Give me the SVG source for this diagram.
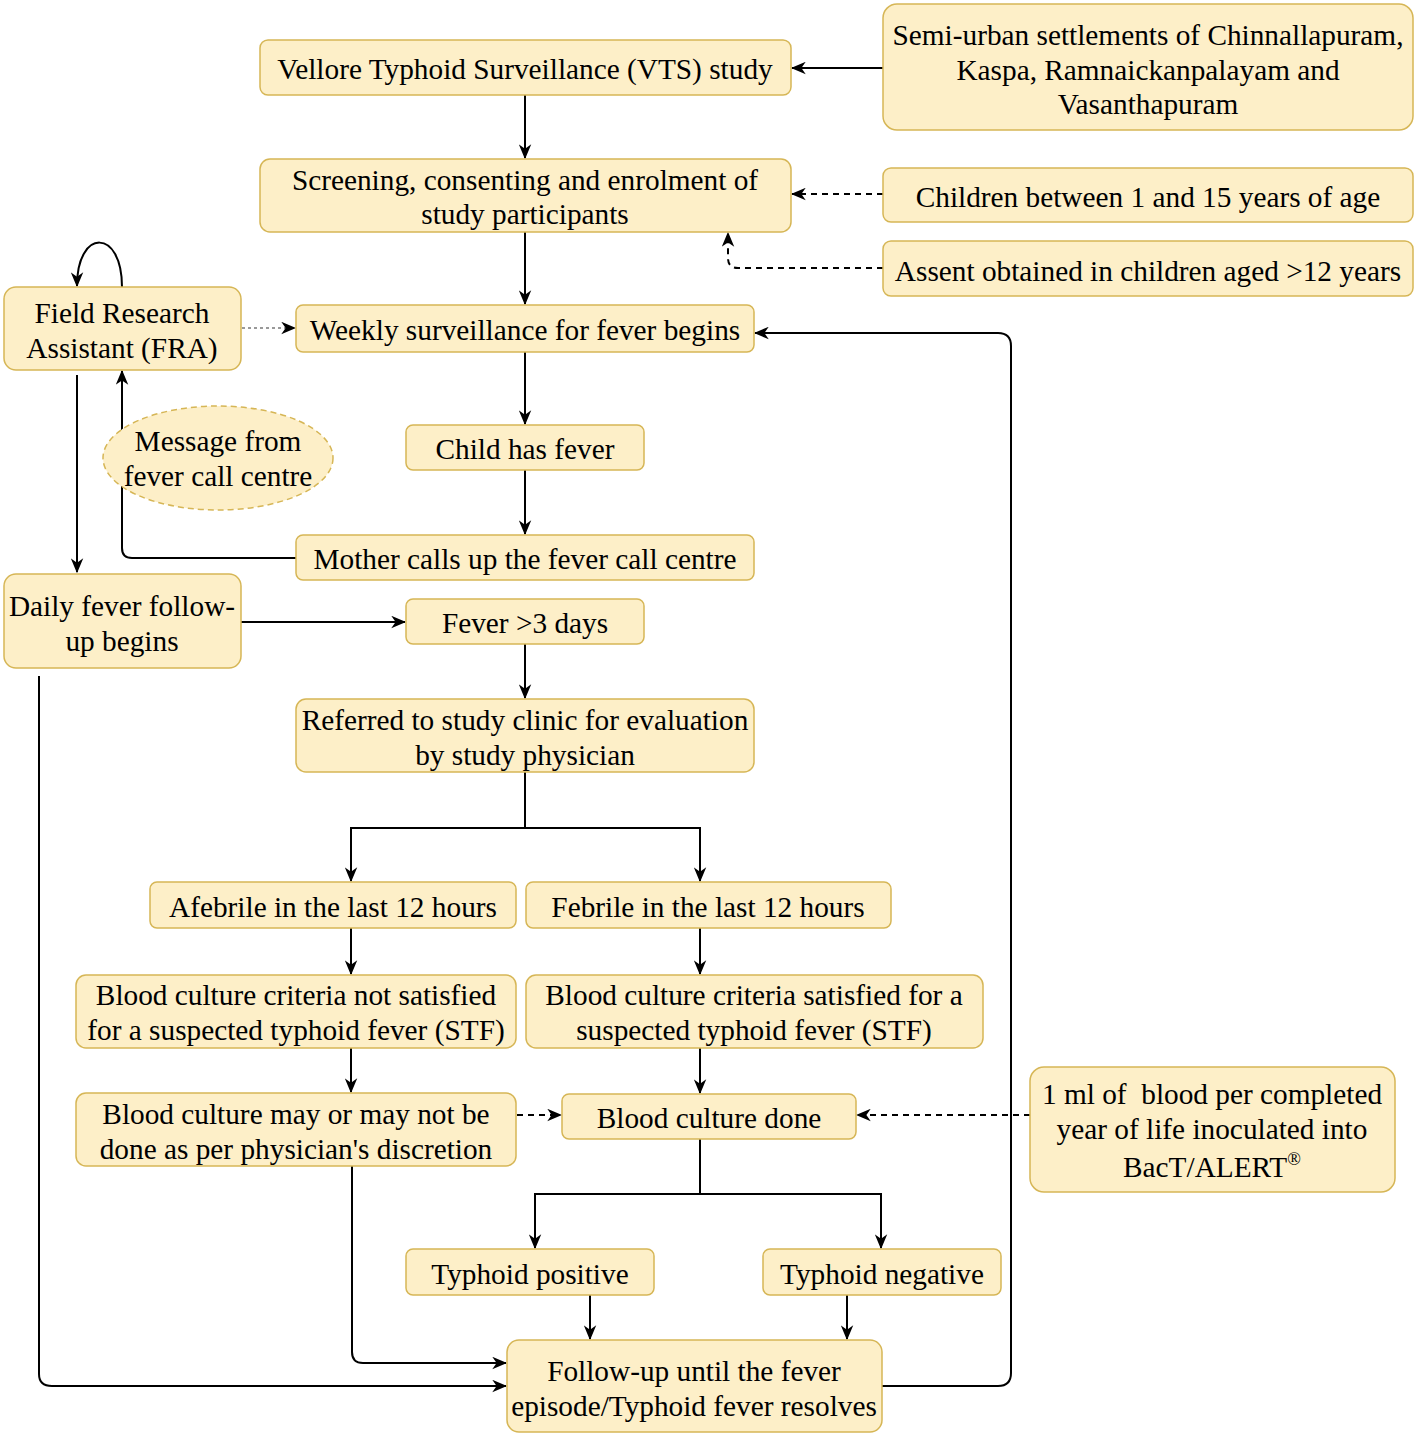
<svg xmlns="http://www.w3.org/2000/svg" width="1418" height="1436" viewBox="0 0 1418 1436">
<style>
.n{fill:#FDEFC8;stroke:#D6B656;stroke-width:1.5}
.e{fill:#FDEFC8;stroke:#D6B656;stroke-width:1.5;stroke-dasharray:6 4}
text{font-family:"Liberation Serif","Times New Roman",serif;font-size:29.3px;fill:#000;text-anchor:middle}
.c{fill:none;stroke:#000;stroke-width:2}
.d{fill:none;stroke:#000;stroke-width:2;stroke-dasharray:6 5}
.g{fill:none;stroke:#999;stroke-width:2;stroke-dasharray:3 3}
</style>
<defs>
<marker id="a" viewBox="0 0 12 10" refX="11" refY="5" markerWidth="15" markerHeight="13" markerUnits="userSpaceOnUse" orient="auto"><path d="M0,0 L12,5 L0,10 L3.5,5 z" fill="#000"/></marker>
</defs>
<rect width="1418" height="1436" fill="#fff"/>
<g id="connectors">
<path class="c" d="M883,68 H792" marker-end="url(#a)"/>
<path class="c" d="M525,95 V158" marker-end="url(#a)"/>
<path class="d" d="M883,194 H792" marker-end="url(#a)"/>
<path class="d" d="M883,268 H738 Q728,268 728,258 V233" marker-end="url(#a)"/>
<path class="c" d="M525,232 V304" marker-end="url(#a)"/>
<path class="g" d="M242,328 H295" marker-end="url(#a)"/>
<path class="c" d="M122,287 C122,228 77,228 77,286" marker-end="url(#a)"/>
<path class="c" d="M77,375 V572" marker-end="url(#a)"/>
<path class="c" d="M296,558 H132 Q122,558 122,548 V371" marker-end="url(#a)"/>
<path class="c" d="M525,352 V424" marker-end="url(#a)"/>
<path class="c" d="M525,470 V534" marker-end="url(#a)"/>
<path class="c" d="M241,622 H405" marker-end="url(#a)"/>
<path class="c" d="M525,644 V698" marker-end="url(#a)"/>
<path class="c" d="M525,772 V828 H351 V881" marker-end="url(#a)"/>
<path class="c" d="M525,828 H700 V881" marker-end="url(#a)"/>
<path class="c" d="M351,928 V974" marker-end="url(#a)"/>
<path class="c" d="M700,928 V974" marker-end="url(#a)"/>
<path class="c" d="M351,1048 V1092" marker-end="url(#a)"/>
<path class="c" d="M700,1048 V1093" marker-end="url(#a)"/>
<path class="d" d="M517,1115 H561" marker-end="url(#a)"/>
<path class="d" d="M1030,1115 H857" marker-end="url(#a)"/>
<path class="c" d="M700,1139 V1194 H535 V1248" marker-end="url(#a)"/>
<path class="c" d="M700,1194 H881 V1248" marker-end="url(#a)"/>
<path class="c" d="M590,1295 V1339" marker-end="url(#a)"/>
<path class="c" d="M847,1295 V1339" marker-end="url(#a)"/>
<path class="c" d="M352,1166 V1352 Q352,1363 363,1363 H506" marker-end="url(#a)"/>
<path class="c" d="M39,676 V1374 Q39,1386 52,1386 H506" marker-end="url(#a)"/>
<path class="c" d="M882,1386 H998 Q1011,1386 1011,1373 V346 Q1011,333 998,333 H755" marker-end="url(#a)"/>
</g>
<g id="n1"><rect class="n" x="260" y="40" width="531" height="55" rx="8"/><text x="525" y="79">Vellore Typhoid Surveillance (VTS) study</text></g>
<g id="n2"><rect class="n" x="883" y="4" width="530" height="126" rx="14"/><text x="1148" y="45">Semi-urban settlements of Chinnallapuram,</text><text x="1148" y="80">Kaspa, Ramnaickanpalayam and</text><text x="1148" y="114">Vasanthapuram</text></g>
<g id="n3"><rect class="n" x="260" y="159" width="531" height="73" rx="10"/><text x="525" y="190">Screening, consenting and enrolment of</text><text x="525" y="224">study participants</text></g>
<g id="n4"><rect class="n" x="883" y="168" width="530" height="54" rx="8"/><text x="1148" y="207">Children between 1 and 15 years of age</text></g>
<g id="n5"><rect class="n" x="883" y="241" width="530" height="55" rx="8"/><text x="1148" y="281">Assent obtained in children aged &gt;12 years</text></g>
<g id="n6"><rect class="n" x="4" y="287" width="237" height="83" rx="12"/><text x="122" y="323">Field Research</text><text x="122" y="358">Assistant (FRA)</text></g>
<g id="n7"><rect class="n" x="296" y="305" width="458" height="47" rx="7"/><text x="525" y="340">Weekly surveillance for fever begins</text></g>
<g id="n8"><ellipse class="e" cx="218" cy="458" rx="115" ry="52"/><text x="218" y="451">Message from</text><text x="218" y="486">fever call centre</text></g>
<g id="n9"><rect class="n" x="406" y="425" width="238" height="45" rx="7"/><text x="525" y="459">Child has fever</text></g>
<g id="n10"><rect class="n" x="296" y="535" width="458" height="45" rx="7"/><text x="525" y="569">Mother calls up the fever call centre</text></g>
<g id="n11"><rect class="n" x="4" y="574" width="237" height="94" rx="12"/><text x="122" y="616">Daily fever follow-</text><text x="122" y="651">up begins</text></g>
<g id="n12"><rect class="n" x="406" y="599" width="238" height="45" rx="7"/><text x="525" y="633">Fever &gt;3 days</text></g>
<g id="n13"><rect class="n" x="296" y="699" width="458" height="73" rx="10"/><text x="525" y="730">Referred to study clinic for evaluation</text><text x="525" y="765">by study physician</text></g>
<g id="n14"><rect class="n" x="150" y="882" width="366" height="46" rx="7"/><text x="333" y="917">Afebrile in the last 12 hours</text></g>
<g id="n15"><rect class="n" x="526" y="882" width="365" height="46" rx="7"/><text x="708" y="917">Febrile in the last 12 hours</text></g>
<g id="n16"><rect class="n" x="76" y="975" width="440" height="73" rx="10"/><text x="296" y="1005">Blood culture criteria not satisfied</text><text x="296" y="1040">for a suspected typhoid fever (STF)</text></g>
<g id="n17"><rect class="n" x="526" y="975" width="457" height="73" rx="10"/><text x="754" y="1005">Blood culture criteria satisfied for a</text><text x="754" y="1040">suspected typhoid fever (STF)</text></g>
<g id="n18"><rect class="n" x="76" y="1093" width="440" height="73" rx="10"/><text x="296" y="1124">Blood culture may or may not be</text><text x="296" y="1159">done as per physician's discretion</text></g>
<g id="n19"><rect class="n" x="562" y="1094" width="294" height="45" rx="7"/><text x="709" y="1128">Blood culture done</text></g>
<g id="n20"><rect class="n" x="1030" y="1067" width="365" height="125" rx="14"/><text x="1212" y="1104">1 ml of&#160; blood per completed</text><text x="1212" y="1139">year of life inoculated into</text><text x="1212" y="1177">BacT/ALERT<tspan font-size="18" dy="-12">®</tspan></text></g>
<g id="n21"><rect class="n" x="406" y="1249" width="248" height="46" rx="7"/><text x="530" y="1284">Typhoid positive</text></g>
<g id="n22"><rect class="n" x="763" y="1249" width="238" height="46" rx="7"/><text x="882" y="1284">Typhoid negative</text></g>
<g id="n23"><rect class="n" x="507" y="1340" width="375" height="92" rx="12"/><text x="694" y="1381">Follow-up until the fever</text><text x="694" y="1416">episode/Typhoid fever resolves</text></g>
</svg>
